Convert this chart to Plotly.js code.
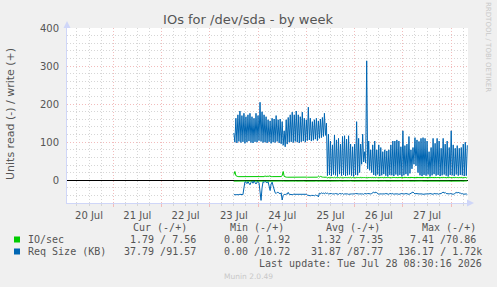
<!DOCTYPE html>
<html>
<head>
<meta charset="utf-8">
<script src="https://cdn.plot.ly/plotly-3.0.1.min.js"></script>
<style>html,body{margin:0;padding:0;background:#f0f0f0;}#chart{width:497px;height:287px;}</style>
</head>
<body>
<div id="chart"></div>
<script>
// ---- data (30-minute samples starting 2026-07-23 12:00) ----
const seriesStart = '2026-07-23T12:00:00Z';
const sampleMinutes = 30;

// Req Size (KB), write (+)
const reqSizeWrite = [
124,
100,163, 98,172, 102,182, 99,170, 101,176, 97,167, 100,172, 103,176, 99,167, 98,163,
101,176, 100,170, 104,205, 102,180, 99,172, 100,167, 98,159, 101,156, 97,163, 100,161,
99,170, 102,159, 98,161, 96,154, 92,130, 88,159, 95,165, 100,172, 101,179, 99,172,
102,182, 100,172, 98,167, 101,179, 103,163, 100,159, 104,192, 106,163, 103,154, 105,159,
108,163, 104,156, 110,161, 112,165, 115,176, 118,150,
12,121, 14,103, 11,93, 15,119, 13,106, 10,110, 16,95, 12,115, 14,117, 11,108, 13,117, 15,95, 12,88, 10,95, 14,154, 13,110,
20,95, 42,121, 48,75, 45,314, 30,103, 26,80, 20,93,
14,103, 12,80, 15,93, 11,86, 13,75, 16,80, 12,77, 10,80, 14,93, 13,103,
11,103, 15,106, 12,103, 14,88, 10,130, 13,91, 16,95, 12,115, 18,80,
30,86, 42,112, 38,106, 20,102,
13,110, 11,112, 14,110, 12,103, 15,75, 10,86, 13,110, 16,97, 12,110, 14,103, 11,84, 13,110,
15,95, 12,103, 10,86, 14,130, 13,93, 11,84, 15,91, 12,84, 14,86, 13,95, 11,100, 12,92
];

// Req Size (KB), read (-)
const reqSizeRead = [
-38,-39,-38,-38,-39,-38,-37,-38,-39,-38,
-20,-4,
-5,-9,-4,-7,-12,-6,-3,-8,-2,-6,-10,-5,-4,-7,
-30,-53,-20,
-4,-6,-3,-5,-7,-4,
-15,-27,-10,-5,
-15,-25,-33,-35,-32,
-32,-34,-36,-33,
-52,-40,
-37,-38,-36,-37,-32,
-37,-38,-37,-38,-37,-37,-38,-37,-38,-38,-37,-38,-37,-38,-37,-38,-38,-37,
-39,-40,-39,-41,-40,-39,-40,-41,-39,-40,-40,
-44,
-34,-36,-33,-35,-34,-36,-33,-35,-34,-36,-35,
-36,-35,-36,-37,-36,-35,-36,-36,-37,-35,-36,-36,-35,-37,-36,-36,-35,-36,-37,-36,
-35,-36,-36,-37,-36,-35,-36,-37,-36,-36,-35,-36,-36,-37,-35,-36,-36,-35,-36,-37,-36,-35,
-33,-31,-34,-31,-33,
-36,-37,-36,-35,-36,-36,-37,-36,-35,-36,-36,-37,-35,-36,-36,-35,-37,-36,-36,-35,
-36,-37,-36,-36,-35,-36,-37,-36,-35,-36,-36,-37,-36,-35,
-33,-31,-34,
-36,-35,-36,-37,-36,-36,-35,-36,-37,-36,-35,-36,-36,-37,-36,-35,-36,-36,-37,-35,
-36,-36,-35,-37,-36,-36,-35,
-33,-31,-34,-32,-35,
-36,-37,-36,-35,-36,-36,-37,-36,-35,
-32,-34,-31,-34,-33,
-36,-35,-37,-36,-35,-36,-37.79
];

// IO/sec, write (+)
const ioWrite = [
15,23,12,
9.5,9.6,9.4,9.5,9.7,9.5,9.4,9.6,9.5,9.5,9.4,9.6,9.5,9.7,9.5,9.4,9.5,9.6,9.5,9.4,9.5,9.6,9.5,9.5,9.4,9.6,
11,9.5,11.5,9.5,11,9.5,11.5,9.5,
9.4,9.5,9.6,9.5,9.4,9.5,9.6,9.5,9.4,9.5,9.6,
12,23,10,
8,8.1,7.9,8,8,8.1,7.9,8,8,8.1,7.9,8,8,8.1,7.9,8,8,8.1,7.9,8,8,8.1,7.9,8,8,8.1,7.9,8,8,8.1,7.9,8,8,
10.5,8.5,10,
8,8.1,7.9,8,8,7.9,
5.5,8.4,5.3,8.7,5.6,8.5,5.4,8.3,5.7,8.6,
5.4,8.5,5.6,8.2,5.5,8.7,5.3,8.4,5.6,8.5,
5.5,8.6,5.4,8.3,5.7,8.5,5.5,8.4,5.3,8.6,
5.6,8.4,5.5,8.7,5.4,8.5,5.6,8.3,5.5,8.6,
5.3,8.5,5.6,8.4,5.5,8.6,5.4,8.5,5.7,8.3,
5.5,8.6,5.4,8.4,5.6,8.5,5.3,8.7,5.5,8.4,
5.6,8.5,5.5,8.3,5.4,8.6,5.7,8.4,5.5,8.5,
5.4,8.6,5.6,8.5,5.3,8.4,5.5,8.7,5.6,8.3,
5.5,8.5,5.4,8.6,5.7,8.4,5.5,8.5,5.3,8.6,
5.6,8.4,5.5,8.5,5.4,8.7,5.6,8.3,5.5,8.5,
5.3,8.6,5.5,8.4,5.6,8.5,5.4,8.6,5.5,8.4,
5.7,8.5,5.4,8.3,5.5,8.6,5.6,8.4,5.3,8.5,
5.5,8.7,5.6,8.4,5.4,8.5,5.5,8.6,5.6,8.3,
5.4,8.5,5.5,8.6,5.3,8.4,5.6,8.5,5.5,7.56
];

// IO/sec, read (-)
const ioRead = [
-2.4,-2.2,-2.5,-2.3,-2.1,-2.4,-2.6,-2.2,-2.3,-2.5,
-2.3,-2.1,-2.4,-2.2,-2.5,-2.3,-2.4,-2.1,-2.6,-2.3,
-2.2,-2.4,-2.3,-2.5,-2.1,-2.3,-2.4,-2.2,-2.3,-2.5,
-2.4,-2.2,-2.3,-2.1,-2.5,-2.3,-2.2,-2.4,-2.6,-2.3,
-2.1,-2.3,-2.4,-2.2,-2.5,-2.3,-2.2,-2.4,-2.3,-2.1,
-2.4,-2.2,-2.5,-2.3,-2.4,-2.2,-2.1,-2.3,-2.5,-2.4,
-2.3,-2.2,-2.4,-2.1,-2.3,-2.5,-2.2,-2.4,-2.3,-2.2,
-2.5,-2.3,-2.1,-2.4,-2.2,-2.3,-2.5,-2.4,-2.2,-2.3,
-2.2,-2.4,-2.3,-2.5,-2.1,-2.3,-2.4,-2.2,-2.6,-2.3,
-2.4,-2.2,-2.3,-2.4,-2.5,-2.3,-2.2,-2.1,-2.4,-2.3,
-2.3,-2.5,-2.2,-2.4,-2.3,-2.1,-2.4,-2.2,-2.3,-2.5,
-2.2,-2.3,-2.4,-2.2,-2.5,-2.3,-2.1,-2.4,-2.3,-2.2,
-2.4,-2.3,-2.2,-2.5,-2.3,-2.4,-2.2,-2.3,-2.1,-2.4,
-2.3,-2.2,-2.4,-2.3,-2.5,-2.2,-2.4,-2.3,-2.2,-2.4,
-2.5,-2.3,-2.2,-2.4,-2.1,-2.3,-2.4,-2.2,-2.3,-2.5,
-2.2,-2.4,-2.3,-2.1,-2.4,-2.3,-2.5,-2.2,-2.3,-2.4,
-2.3,-2.2,-2.4,-2.5,-2.3,-2.2,-2.4,-2.3,-2.1,-2.3,
-2.4,-2.2,-2.3,-2.4,-2.2,-2.5,-2.3,-2.4,-2.2,-2.3,
-2.2,-2.4,-2.5,-2.3,-2.2,-2.4,-2.3,-2.1,-2.4,-2.3,
-2.3,-2.2,-2.4,-2.3,-2.5,-2.2,-2.3,-2.4,-2.2,-2.3,
-2.4,-2.3,-2.2,-2.4,-2.3,-2.5,-2.2,-2.4,-2.3,-2.2,
-2.3,-2.4,-2.2,-2.3,-2.5,-2.3,-2.2,-2.4,-2.3,-2.1,
-2.2,-2.4,-2.3,-2.2,-2.4,-2.3,-2.5,-2.2,-2.3,-2.4,
-2.2,-2.0,-1.79
];

const seriesNames = ['IO/sec', 'Req Size (KB)'];
const seriesColors = ['#00cc00', '#0066b3'];
const columnHeads = ['Cur (-/+)', 'Min (-/+)', 'Avg (-/+)', 'Max (-/+)'];
const ioStats = ['1.79 / 7.56', '0.00 / 1.92', '1.32 / 7.35', '7.41 /70.86'];
const reqStats = ['37.79 /91.57', '0.00 /10.72', '31.87 /87.77', '136.17 / 1.72k'];
const lastUpdate = 'Last update: Tue Jul 28 08:30:16 2026';
const xRange = ['2026-07-20 01:04', '2026-07-28 08:21'];

// ---- build ----
const t0 = Date.parse(seriesStart);
const times = reqSizeWrite.map((_, i) =>
  new Date(t0 + i * sampleMinutes * 60000).toISOString().slice(0, 16).replace('T', ' '));

function tr(y, color) {
  return {x: times, y: y, type: 'scatter', mode: 'lines',
          line: {color: color, width: 1}, hoverinfo: 'skip', showlegend: false};
}
const data = [
  tr(ioRead, seriesColors[0]), tr(ioWrite, seriesColors[0]),
  tr(reqSizeRead, seriesColors[1]), tr(reqSizeWrite, seriesColors[1])
];

// plot area in pixels
const L = 67, R = 468, T = 28, B = 203, W = 497, H = 287;
const px = x => (x - L) / (R - L);
const py = y => (B - y) / (B - T);

const mono = {family: 'DejaVu Sans Mono', size: 10, color: '#555'};
const ann = [];
function text(t, x, y, anchor, font, extra) {
  ann.push(Object.assign({text: t, x: px(x), y: py(y), xref: 'paper', yref: 'paper',
    xanchor: anchor, yanchor: 'middle', showarrow: false, font: font, borderpad: 0}, extra || {}));
}
// header
const headRight = [187.5, 284.5, 380.5, 477];
columnHeads.forEach((h, i) => text(h, headRight[i], 227.3, 'right', mono));
const ioRight = [197, 291, 383.5, 477];
const reqRight = [197, 291, 383.5, 483];
text(seriesNames[0], 26.5, 239.7, 'left', mono);
text(seriesNames[1], 26.5, 251.7, 'left', mono);
ioStats.forEach((s, i) => text(s, ioRight[i], 239.7, 'right', mono));
reqStats.forEach((s, i) => text(s, reqRight[i], 251.7, 'right', mono));
text(lastUpdate, 483, 263.7, 'right', mono);
text('Munin 2.0.49', 248, 276.5, 'center', {family: 'DejaVu Sans', size: 7.5, color: '#c8c8c8'});
text('Units read (-) / write (+)', 10, 114, 'center', {family: 'DejaVu Sans', size: 11, color: '#555'}, {textangle: -90});
text('RRDTOOL / TOBI OETIKER', 488, 47, 'center', {family: 'DejaVu Sans', size: 7, color: '#c8c8c8'}, {textangle: 90});

const shapes = [
  // legend swatches
  {type: 'rect', xref: 'paper', yref: 'paper', x0: px(14), x1: px(20), y0: py(242.5), y1: py(236.5),
   fillcolor: seriesColors[0], line: {width: 0}},
  {type: 'rect', xref: 'paper', yref: 'paper', x0: px(14), x1: px(20), y0: py(254.5), y1: py(248.5),
   fillcolor: seriesColors[1], line: {width: 0}},
  // axis arrows
  {type: 'path', xref: 'paper', yref: 'paper',
   path: `M ${px(63.5)} ${py(28)} L ${px(67)} ${py(21)} L ${px(70.5)} ${py(28)} Z`,
   fillcolor: '#cfd6f8', line: {width: 0}},
  {type: 'path', xref: 'paper', yref: 'paper',
   path: `M ${px(467)} ${py(199.5)} L ${px(474)} ${py(203)} L ${px(467)} ${py(206.5)} Z`,
   fillcolor: '#cfd6f8', line: {width: 0}}
];

const grid = {gridcolor: '#f2bcbc', griddash: '1px,2px', gridwidth: 1};
const minorGrid = {showgrid: true, gridcolor: '#d6d6d6', griddash: '1px,2px', gridwidth: 1};
const tickFont = {family: 'DejaVu Sans', size: 10, color: '#555'};

const layout = {
  width: W, height: H,
  margin: {l: L, r: W - R, t: T, b: H - B, pad: 0},
  paper_bgcolor: '#f0f0f0', plot_bgcolor: '#ffffff',
  showlegend: false,
  title: {text: 'IOs for /dev/sda - by week', x: 248 / W, xref: 'container', xanchor: 'center',
          y: 1 - 19 / H, yref: 'container', yanchor: 'middle',
          font: {family: 'DejaVu Sans', size: 13, color: '#555'}},
  xaxis: Object.assign({
    type: 'date', range: xRange, tick0: '2026-07-20', dtick: 86400000,
    ticklabelmode: 'period', tickformat: '%d %b',
    showgrid: true, ticks: 'outside', ticklen: 3, tickcolor: '#f2bcbc',
    minor: Object.assign({dtick: 21600000, tick0: '2026-07-20', ticks: 'outside', ticklen: 2, tickcolor: '#d6d6d6'}, minorGrid),
    showline: true, linecolor: '#cfd6f8', linewidth: 1, zeroline: false,
    tickfont: tickFont, fixedrange: true
  }, grid),
  yaxis: Object.assign({
    range: [-59.9, 400.3], tick0: 0, dtick: 100, showgrid: true,
    minor: Object.assign({dtick: 20, tick0: 0}, minorGrid),
    zeroline: true, zerolinecolor: '#000000', zerolinewidth: 1,
    showline: true, linecolor: '#cfd6f8', linewidth: 1,
    ticks: '', ticklabelstandoff: 5, tickfont: tickFont, fixedrange: true
  }, grid),
  annotations: ann,
  shapes: shapes
};

Plotly.newPlot('chart', data, layout, {displayModeBar: false, staticPlot: true});
</script>
</body>
</html>
